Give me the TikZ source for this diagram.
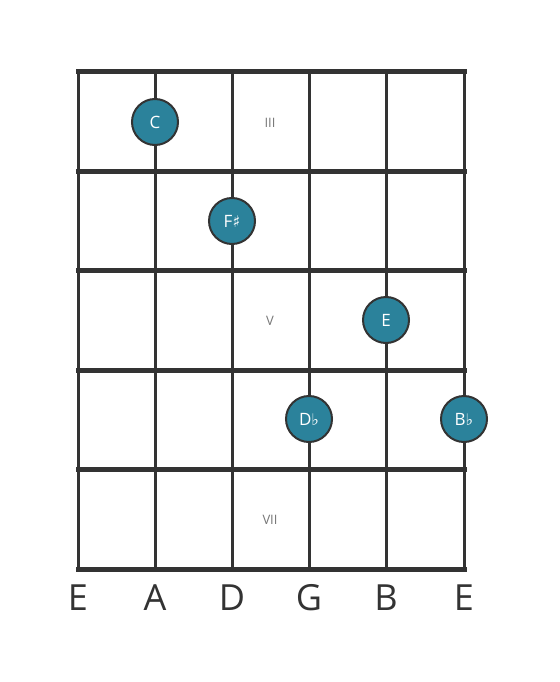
\documentclass[tikz,border=0pt]{standalone}
\usepackage{fontspec}
\setmainfont{Open Sans}
\newfontfamily\symfont{DejaVu Sans}
\usetikzlibrary{positioning}
\definecolor{gridline}{HTML}{333333}
\definecolor{notefill}{HTML}{2B829B}
\definecolor{fretnum}{HTML}{777777}
\tikzset{
  fretline/.style={gridline, line width=5pt},
  stringline/.style={gridline, line width=3pt},
  note/.style={circle, draw=gridline, line width=2pt, fill=notefill, minimum size=46pt, inner sep=0pt, text=white, font=\fontsize{17}{17}\selectfont},
  fretlabel/.style={text=fretnum, font=\fontsize{13}{13}\selectfont},
  stringname/.style={text=gridline, font=\fontsize{36}{36}\selectfont}
}

\begin{document}
\begin{tikzpicture}[x=1pt, y=-1pt]
                \useasboundingbox[fill=white] (0, 0) rectangle (559, 682);
                \foreach \s/\x in {1/78, 2/155, 3/232, 4/309, 5/386, 6/464}
                    \draw[stringline] (\x, 72) -- (\x, 569);
                \foreach \y in {72, 171, 270, 370, 469, 569}
                    \draw[fretline, line cap=rect] (78, \y) -- (464, \y);
                \node[fretlabel] (fret3) at (270, 123) {III};
                \node[fretlabel] (fret5) at (270, 321) {V};
                \node[fretlabel] (fret7) at (270, 520) {VII};
                \node[note] (noteC) at (155, 122) {C};
                \node[note] (noteFs) at (232, 221) {F{\symfont\fontsize{16}{16}\selectfont♯}};
                \node[note] (noteE) at (386, 320) {E};
                \node[note] (noteDb) at (309, 419) {D{\symfont\fontsize{16}{16}\selectfont♭}};
                \node[note] (noteBb) at (464, 419) {B{\symfont\fontsize{16}{16}\selectfont♭}};
                \foreach \n/\x in {E/78, A/155, D/232, G/309, B/386, E/464}
                    \node[stringname] (name\x) at (\x, 598) {\n};
            \end{tikzpicture}
\end{document}
